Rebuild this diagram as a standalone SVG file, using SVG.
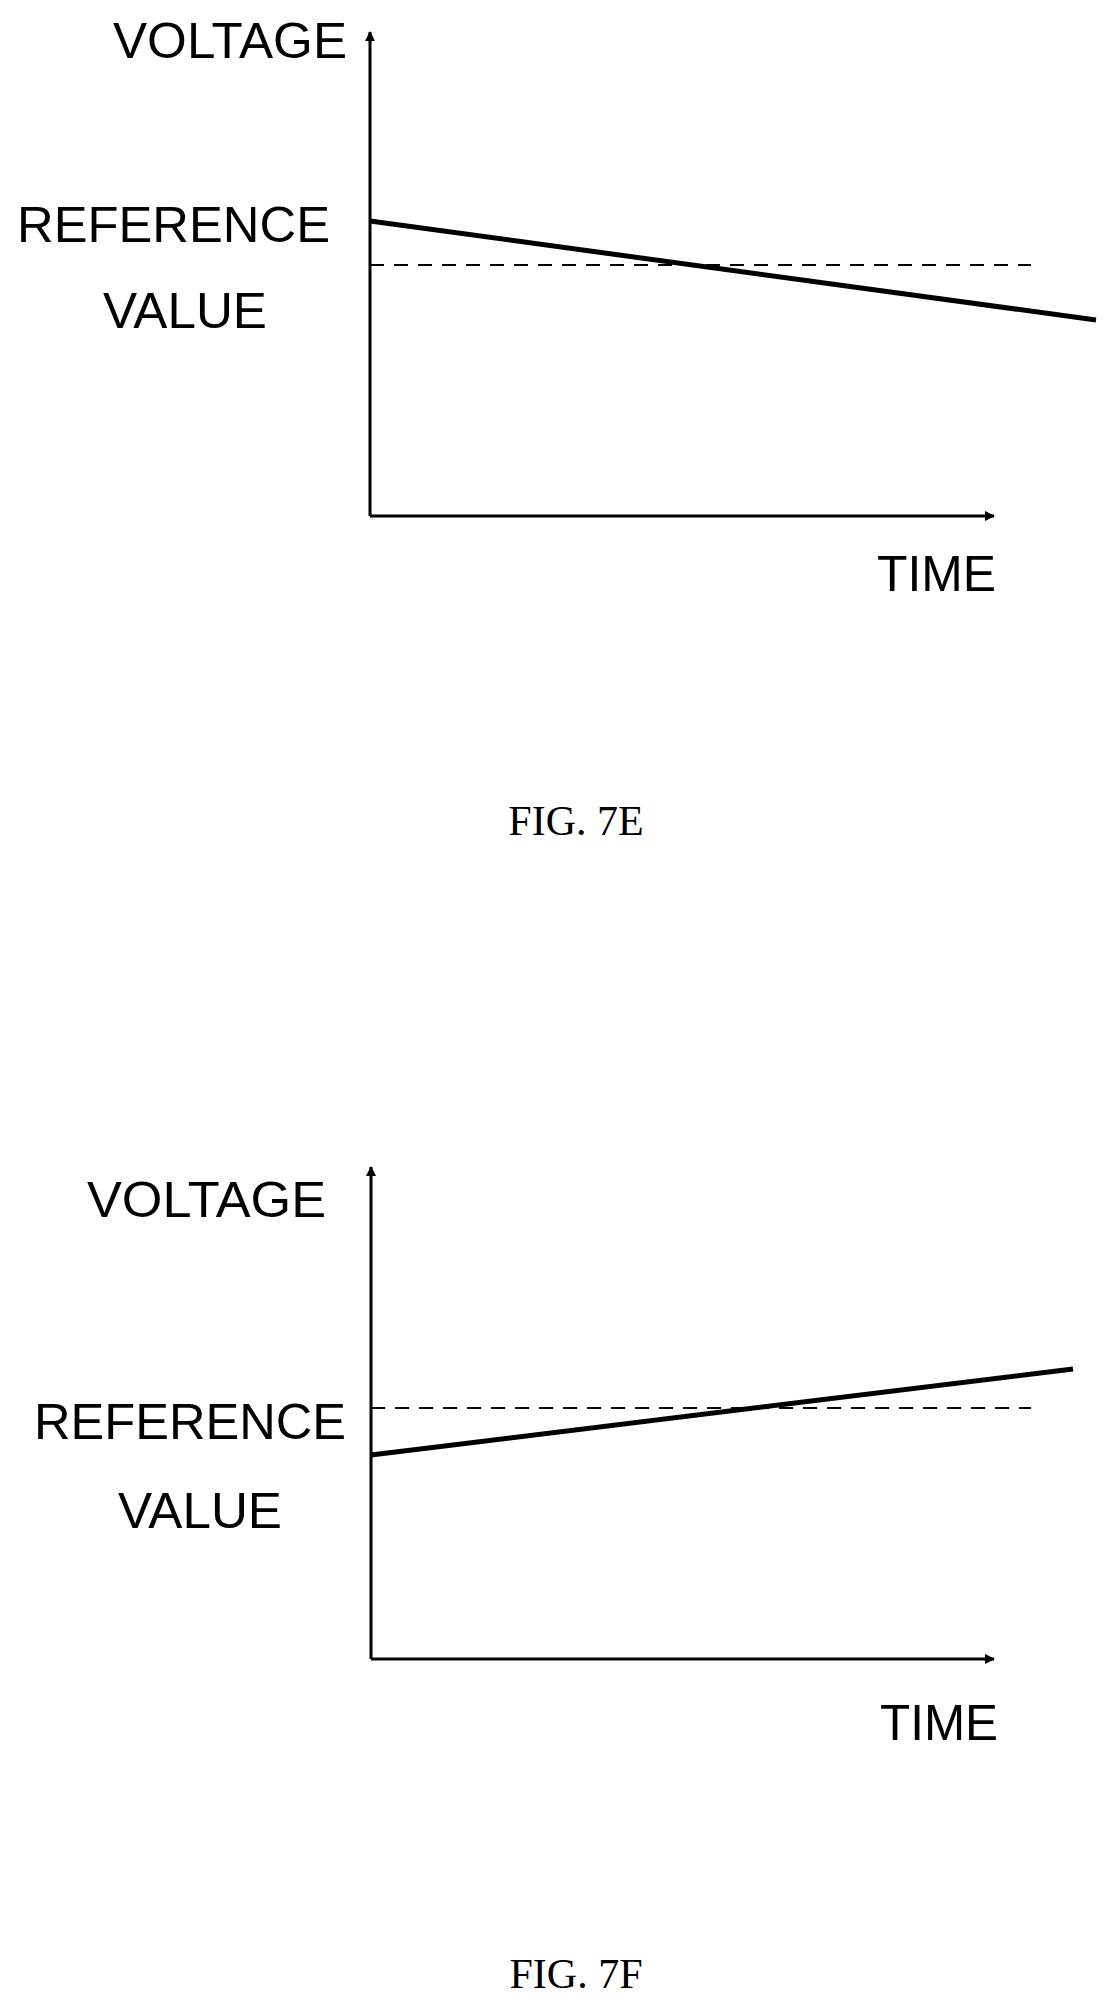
<svg xmlns="http://www.w3.org/2000/svg" width="1120" height="2013" viewBox="0 0 1120 2013">
<style>
.l{font-family:"Liberation Sans",Arial,sans-serif;font-size:50px;fill:#000}
.c{font-family:"Liberation Serif","Times New Roman",serif;font-size:42px;fill:#000;text-anchor:middle}
.ax{stroke:#000;stroke-width:3;fill:none}
.sig{stroke:#000;stroke-width:5;fill:none}
.ref{stroke:#000;stroke-width:2;fill:none;stroke-dasharray:14 10}
</style>
<defs>
<marker id="ah" markerWidth="10" markerHeight="10" refX="9" refY="5" orient="auto" markerUnits="userSpaceOnUse" viewBox="0 0 10 10">
<path d="M0,0 L10,5 L0,10 z" fill="#000"/>
</marker>
</defs>
<g id="fig7e">
<g id="connectors-7e">
<line class="ax" x1="370" y1="516" x2="370" y2="32" marker-end="url(#ah)"/>
<line class="ax" x1="370" y1="516" x2="994" y2="516" marker-end="url(#ah)"/>
<line class="ref" x1="370" y1="265" x2="1031" y2="265"/>
<line class="sig" x1="370" y1="221" x2="1096" y2="320"/>
</g>
<text class="l" x="113" y="58" textLength="234" lengthAdjust="spacingAndGlyphs">VOLTAGE</text>
<text class="l" x="17" y="242" textLength="313" lengthAdjust="spacingAndGlyphs">REFERENCE</text>
<text class="l" x="103" y="328" textLength="164" lengthAdjust="spacingAndGlyphs">VALUE</text>
<text class="l" x="877" y="591" textLength="119" lengthAdjust="spacingAndGlyphs">TIME</text>
<text class="c" x="576" y="835">FIG. 7E</text>
</g>
<g id="fig7f">
<g id="connectors-7f">
<line class="ax" x1="371" y1="1659" x2="371" y2="1167" marker-end="url(#ah)"/>
<line class="ax" x1="371" y1="1659" x2="994" y2="1659" marker-end="url(#ah)"/>
<line class="ref" x1="371" y1="1408" x2="1031" y2="1408"/>
<line class="sig" x1="371" y1="1455" x2="1073" y2="1369"/>
</g>
<text class="l" x="87" y="1217" textLength="239" lengthAdjust="spacingAndGlyphs">VOLTAGE</text>
<text class="l" x="34" y="1439" textLength="312" lengthAdjust="spacingAndGlyphs">REFERENCE</text>
<text class="l" x="118" y="1528" textLength="164" lengthAdjust="spacingAndGlyphs">VALUE</text>
<text class="l" x="880" y="1740" textLength="118" lengthAdjust="spacingAndGlyphs">TIME</text>
<text class="c" x="576" y="1988">FIG. 7F</text>
</g>
</svg>
